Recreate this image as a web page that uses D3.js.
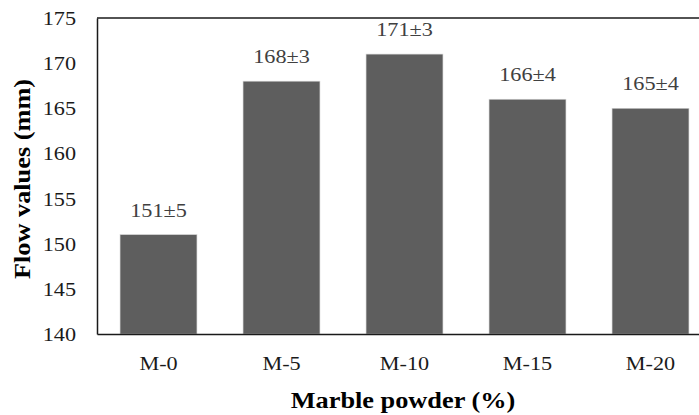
<!DOCTYPE html>
<html>
<head>
<meta charset="utf-8">
<script src="https://cdn.jsdelivr.net/npm/d3@7"></script>
<style>
body { margin: 0; background: #fff; }
text { font-family: "Liberation Serif", "Times New Roman", serif; }
</style>
</head>
<body>
<div id="chart"></div>
<script>
// Chart data
var categories = ["M-0", "M-5", "M-10", "M-15", "M-20"];
var flowValues = [151, 168, 171, 166, 165];
var flowErrors = [5, 3, 3, 4, 4];
var yTicks = [140, 145, 150, 155, 160, 165, 170, 175];

var width = 699, height = 415;
// Text in the reference is a bit wider than it is tall
var sx = 1.17;

var svg = d3.select("#chart").append("svg")
	.attr("width", width)
	.attr("height", height);

var x = d3.scaleBand()
	.domain(categories)
	.range([97, 712])
	.paddingInner(0.375)
	.paddingOuter(0.1875);

var y = d3.scaleLinear()
	.domain([140, 175])
	.range([334, 18]);

// Bars
svg.append("g").selectAll("rect")
	.data(categories)
	.enter().append("rect")
	.attr("x", function(d){ return x(d) })
	.attr("y", function(d, i){ return y(flowValues[i]) })
	.attr("width", x.bandwidth())
	.attr("height", function(d, i){ return y(140) - y(flowValues[i]) })
	.attr("fill", "#5e5e5e")
	.attr("stroke", "#d0d0d0")
	.attr("stroke-width", 0.6);

// Value labels
svg.append("g").selectAll("text")
	.data(categories)
	.enter().append("text")
	.attr("transform", function(d, i){
		return "translate(" + (x(d) + x.bandwidth() / 2) + "," + (y(flowValues[i]) - 18) + ") scale(" + sx + ",1)";
	})
	.attr("text-anchor", "middle")
	.attr("font-size", 19)
	.attr("fill", "#404040")
	.text(function(d, i){ return flowValues[i] + "\u00b1" + flowErrors[i] });

// Frame: top line, left axis, bottom axis
svg.append("line")
	.attr("x1", 97).attr("x2", 712)
	.attr("y1", y(175)).attr("y2", y(175))
	.attr("stroke", "#1a1a1a").attr("stroke-width", 1.5);

var yAxis = d3.axisLeft(y).tickValues(yTicks).tickSize(0).tickPadding(21);
var gy = svg.append("g").attr("transform", "translate(97,0)").call(yAxis);
gy.select(".domain").attr("stroke", "#1a1a1a").attr("stroke-width", 1.5);
gy.selectAll(".tick text")
	.attr("font-size", 19)
	.attr("fill", "#1a1a1a")
	.attr("x", null)
	.attr("dy", null)
	.attr("dominant-baseline", "central")
	.attr("text-anchor", "end")
	.attr("transform", "translate(-21,0) scale(" + sx + ",1)");

var xAxis = d3.axisBottom(x).tickSize(0).tickPadding(0);
var gx = svg.append("g").attr("transform", "translate(0," + y(140) + ")").call(xAxis);
gx.select(".domain").attr("stroke", "#1a1a1a").attr("stroke-width", 1.5);
gx.selectAll(".tick text")
	.attr("font-size", 19)
	.attr("fill", "#1a1a1a")
	.attr("y", null)
	.attr("dy", null)
	.attr("transform", "translate(0,36) scale(" + sx + ",1)");

// Axis titles
svg.append("text")
	.attr("transform", "translate(403,408) scale(" + sx + ",1)")
	.attr("text-anchor", "middle")
	.attr("font-size", 22.5)
	.attr("font-weight", "bold")
	.attr("fill", "#000")
	.text("Marble powder (%)");

svg.append("text")
	.attr("transform", "translate(30,179) rotate(-90) scale(" + sx + ",1)")
	.attr("text-anchor", "middle")
	.attr("font-size", 22.5)
	.attr("font-weight", "bold")
	.attr("fill", "#000")
	.text("Flow values (mm)");
</script>
</body>
</html>
